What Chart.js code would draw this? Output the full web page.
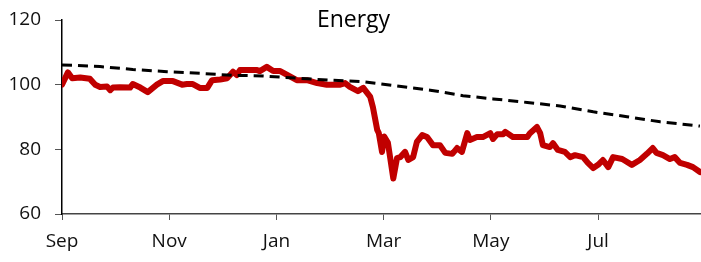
<!DOCTYPE html>
<html lang="en">
  <head>
    <meta charset="UTF-8" />
    <title>Energy</title>
    <script src="https://cdn.jsdelivr.net/npm/chart.js@4"></script>
    <style>
      html, body {
        margin: 0;
        padding: 0;
        background: #fff;
      }
      #wrap {
        width: 701px;
        height: 262px;
      }
    </style>
  </head>
  <body>
    <div id="wrap"><canvas id="chart"></canvas></div>

    <script>
      // x = months since start of Sep
      const energyX = [0, 0.11, 0.19, 0.34, 0.52, 0.62, 0.71, 0.84, 0.90, 0.95, 1.08, 1.27, 1.32, 1.46, 1.60, 1.77, 1.88, 2.07, 2.24, 2.33, 2.44, 2.57, 2.71, 2.80, 2.95, 3.08, 3.19, 3.26, 3.32, 3.51, 3.64, 3.69, 3.82, 3.94, 4.07, 4.20, 4.38, 4.57, 4.76, 4.94, 5.09, 5.19, 5.28, 5.37, 5.52, 5.62, 5.75, 5.80, 5.88, 5.91, 5.97, 6.01, 6.08, 6.18, 6.25, 6.31, 6.40, 6.46, 6.55, 6.62, 6.72, 6.81, 6.92, 7.05, 7.15, 7.28, 7.37, 7.46, 7.56, 7.61, 7.74, 7.85, 7.99, 8.04, 8.12, 8.23, 8.27, 8.41, 8.54, 8.68, 8.73, 8.86, 8.92, 8.97, 9.10, 9.16, 9.25, 9.38, 9.48, 9.57, 9.72, 9.81, 9.91, 10.0, 10.09, 10.19, 10.28, 10.45, 10.63, 10.78, 10.91, 11.02, 11.09, 11.21, 11.34, 11.43, 11.53, 11.66, 11.77, 11.90];
      const energy = [100, 103.8, 102, 102.2, 101.8, 100, 99.3, 99.4, 98.3, 99.1, 99.2, 99.1, 100.2, 99.1, 97.7, 100, 101.1, 101.1, 100, 100.2, 100.2, 99, 99, 101.4, 101.6, 102, 104, 103, 104.5, 104.5, 104.5, 104.2, 105.5, 104.2, 104.2, 103, 101.4, 101.4, 100.5, 100, 100, 100, 100.5, 99.3, 98, 99, 96.2, 93, 86, 85, 79.2, 84, 82, 71, 77.3, 77.6, 79.2, 76.7, 77.6, 82.3, 84.4, 83.8, 81.3, 81.3, 78.9, 78.6, 80.4, 79.2, 85, 82.9, 83.8, 83.8, 85, 83.2, 84.7, 84.7, 85.4, 83.8, 83.8, 83.8, 85, 86.9, 85, 81.3, 80.7, 81.9, 79.8, 79.2, 77.6, 78.2, 77.6, 75.8, 74.2, 75.2, 76.7, 74.5, 77.6, 77, 75.2, 76.7, 78.6, 80.4, 78.9, 78.2, 77, 77.6, 75.8, 75.2, 74.5, 73];

      const trendX = [0, 0.71, 1.32, 1.96, 2.57, 3.19, 3.75, 4.38, 5, 5.62, 6.25, 6.87, 7.48, 8.04, 8.68, 9.29, 9.91, 10.54, 11.16, 11.9];
      const trend = [106.1, 105.6, 104.7, 104, 103.5, 102.9, 102.7, 102, 101.4, 100.9, 99.6, 98.3, 96.6, 95.6, 94.5, 93.4, 91.6, 90.1, 88.5, 87.2];

      const tickMonths = [0, 2, 4, 6, 8, 10];
      const tickLabels = ["Sep", "Nov", "Jan", "Mar", "May", "Jul"];
      const yTicks = [60, 80, 100, 120];

      const toPoints = (xs, ys) => xs.map((x, i) => ({ x: x, y: ys[i] }));

      // title drawn over the plot area, like the original
      const titlePlugin = {
        id: "overTitle",
        afterDraw(chart) {
          const ctx = chart.ctx;
          ctx.save();
          ctx.font = "23px 'Open Sans'";
          ctx.fillStyle = "#000";
          ctx.textAlign = "center";
          ctx.textBaseline = "alphabetic";
          ctx.fillText("Energy", chart.width / 2 + 3, 27);
          ctx.restore();
        },
      };

      const tickFont = { family: "'Open Sans'", size: 19 };

      const config = {
        type: "line",
        data: {
          datasets: [
            {
              label: "Trend",
              data: toPoints(trendX, trend),
              borderColor: "#000",
              borderWidth: 3,
              borderDash: [10, 6],
              pointRadius: 0,
              tension: 0,
            },
            {
              label: "Energy",
              data: toPoints(energyX, energy),
              borderColor: "#c00000",
              borderWidth: 6,
              pointRadius: 0,
              tension: 0,
              borderJoinStyle: "round",
              borderCapStyle: "round",
            },
          ],
        },
        options: {
          responsive: true,
          maintainAspectRatio: false,
          animation: false,
          layout: { padding: { top: 20, right: 0, left: 0, bottom: 0 } },
          plugins: {
            legend: { display: false },
            tooltip: { enabled: false },
          },
          scales: {
            x: {
              type: "linear",
              min: 0,
              max: 11.92,
              afterBuildTicks: (scale) => {
                scale.ticks = tickMonths.map((v) => ({ value: v }));
              },
              afterFit: (scale) => {
                scale.height = 48;
                scale.paddingLeft = 0;
                scale.paddingRight = 0;
              },
              ticks: {
                font: tickFont,
                color: "#111",
                padding: 10,
                maxRotation: 0,
                callback: (v) => tickLabels[tickMonths.indexOf(v)] || "",
              },
              grid: {
                drawOnChartArea: false,
                drawTicks: true,
                tickLength: 6,
                color: "#555",
              },
              border: { display: true, color: "#444", width: 1.5 },
            },
            y: {
              min: 60,
              max: 120,
              afterBuildTicks: (scale) => {
                scale.ticks = yTicks.map((v) => ({ value: v }));
              },
              afterFit: (scale) => {
                scale.width = 62;
                scale.paddingTop = 0;
                scale.paddingBottom = 0;
              },
              ticks: {
                font: tickFont,
                color: "#111",
                padding: 14,
              },
              grid: {
                drawOnChartArea: false,
                drawTicks: true,
                tickLength: 7,
                color: "#555",
              },
              border: { display: true, color: "#000", width: 1.5 },
            },
          },
        },
        plugins: [titlePlugin],
      };

      const chart = new Chart(document.getElementById("chart"), config);
    </script>
  </body>
</html>
